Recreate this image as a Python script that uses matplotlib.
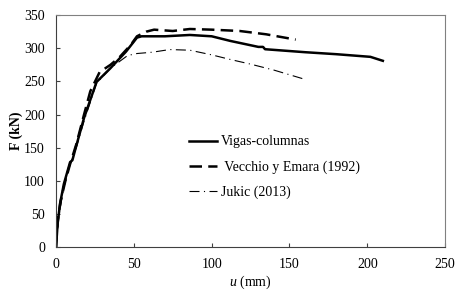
import matplotlib
matplotlib.use("Agg")
import matplotlib.pyplot as plt

# Load-displacement curves
u_vigas = [0, 1, 2.6, 5, 9, 10.5, 12.2, 18, 26, 35, 45, 52, 55, 70, 86, 100, 112, 120, 130, 133, 134.3, 160, 180, 202, 210]
F_vigas = [0, 35, 66, 95, 128, 131, 146, 195, 249, 270, 295, 316, 318, 318, 320, 318, 311, 307, 302, 302, 298.5, 294, 291, 287, 281]

u_vecchio = [0, 1, 3, 6, 9, 13, 18, 22, 28, 35, 41, 48, 52, 58, 63, 75, 86, 100, 118, 135, 154]
F_vecchio = [0, 40, 70, 100, 125, 155, 200, 235, 264, 275, 287, 305, 318, 325, 328, 326, 329, 328, 326, 321, 313]

u_jukic = [0, 2, 5, 9, 13, 18, 26, 35, 46, 52, 62, 73, 86, 100, 112, 125, 140, 160]
F_jukic = [0, 50, 90, 125, 150, 190, 247, 270, 289, 292, 294, 298, 297, 290, 283, 276, 267, 253]

plt.rcParams["font.family"] = ["Liberation Serif", "DejaVu Serif"]
plt.rcParams["mathtext.fontset"] = "custom"
plt.rcParams["mathtext.it"] = "Liberation Serif:italic"
plt.rcParams["mathtext.rm"] = "Liberation Serif"

fig = plt.figure(figsize=(4.71, 2.90), dpi=100)
ax = fig.add_axes([0.119, 0.148, 0.826, 0.800])

ax.plot(u_vigas, F_vigas, color="black", lw=1.8, label="Vigas-columnas")
ax.plot(u_vecchio, F_vecchio, color="black", lw=1.8, ls=(0, (5, 2.5)), label=" Vecchio y Emara (1992)")
ax.plot(u_jukic, F_jukic, color="black", lw=0.8, ls=(0, (9, 4, 1, 4)), label="Jukic (2013)")

ax.set_xlim(0, 250)
ax.set_ylim(0, 350)
ax.set_xticks(range(0, 251, 50))
ax.set_yticks(range(0, 351, 50))
ax.tick_params(direction="in", length=3, labelsize=10, colors="#404040", labelcolor="black")
ax.tick_params(axis="x", pad=8)
ax.tick_params(axis="y", pad=8)
for side in ["left", "bottom"]:
    ax.spines[side].set_color("#404040")
for side in ["top", "right"]:
    ax.spines[side].set_color("#808080")

ax.set_xlabel("$\\it{u}$ (mm)", fontsize=10, labelpad=2)
ax.set_ylabel("F (kN)", fontsize=10, fontweight="bold", labelpad=1)

ax.legend(loc="upper left", bbox_to_anchor=(0.31, 0.535), frameon=False, fontsize=10,
          handlelength=2.0, labelspacing=0.85, handletextpad=0.3)

fig.savefig("out.png", dpi=100)
